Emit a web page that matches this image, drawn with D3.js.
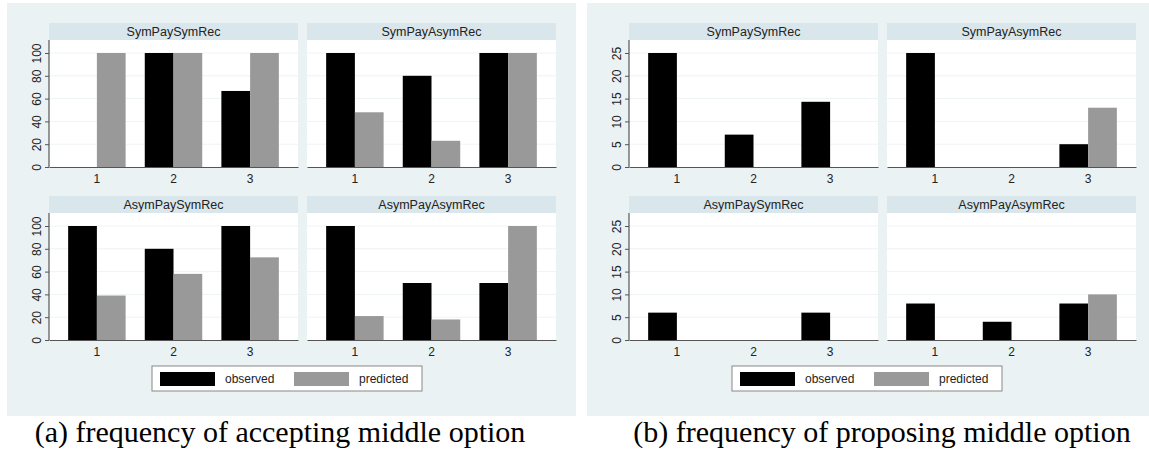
<!DOCTYPE html>
<html><head><meta charset="utf-8">
<script src="https://cdn.jsdelivr.net/npm/d3@7"></script>
<style>body{margin:0;background:#fff}svg{display:block}</style>
</head><body>
<script>
const categories = ["1", "2", "3"];
const panelNames = ["SymPaySymRec", "SymPayAsymRec", "AsymPaySymRec", "AsymPayAsymRec"];
const seriesNames = ["observed", "predicted"];
// (a) frequency of accepting middle option
const acceptObserved  = [[0, 100, 66.7], [100, 80, 100], [100, 80, 100], [100, 50, 50]];
const acceptPredicted = [[100, 100, 100], [48, 23, 100], [39, 58, 72.5], [21, 18, 100]];
const acceptTicks = [0, 20, 40, 60, 80, 100];
// (b) frequency of proposing middle option
const proposeObserved  = [[25, 7.1, 14.3], [25, 0, 5], [6, 0, 6], [8, 4, 8]];
const proposePredicted = [[0, 0, 0], [0, 0, 13], [0, 0, 0], [0, 0, 10]];
const proposeTicks = [0, 5, 10, 15, 20, 25];
const captions = ["(a) frequency of accepting middle option", "(b) frequency of proposing middle option"];

const W = 1149, H = 452;
const svg = d3.select("body").append("svg").attr("width", W).attr("height", H);
const colors = {observed: "#000000", predicted: "#999999"};
const sans = "Arial, 'Liberation Sans', sans-serif";

function drawChart(ox, obs, pred, ticks, caption, bgW, capX) {
  const g = svg.append("g").attr("transform", `translate(${ox},0)`);
  g.append("rect").attr("x", 7).attr("y", 3).attr("width", bgW).attr("height", 413).attr("fill", "#eaf2f3");
  const panelX = [49, 307], panelW = 249;
  const rowBottom = [167, 340], plotH = 127, stripH = 17;
  const topTick = ticks[ticks.length - 1];
  const y0 = d3.scaleLinear().domain([0, topTick * plotH / 114]).range([plotH, 0]);
  panelNames.forEach((name, i) => {
    const col = i % 2, row = Math.floor(i / 2);
    const px = panelX[col], pb = rowBottom[row], pt = pb - plotH;
    const p = g.append("g").attr("transform", `translate(${px},${pt})`);
    const x = d3.scaleBand().domain(categories).range([0, panelW]).paddingInner(0.25).paddingOuter(0.25);
    const xs = d3.scaleBand().domain(seriesNames).range([0, x.bandwidth()]);
    // strip
    p.append("rect").attr("x", 0).attr("y", -stripH).attr("width", panelW).attr("height", stripH).attr("fill", "#d9e6eb");
    p.append("text").attr("x", panelW / 2).attr("y", -stripH / 2).attr("dy", "0.35em")
      .attr("text-anchor", "middle").attr("font-family", sans).attr("font-size", 12.5).attr("fill", "#222").text(name);
    // plot region
    p.append("rect").attr("x", 0).attr("y", 0).attr("width", panelW).attr("height", plotH).attr("fill", "#ffffff");
    // gridlines
    p.selectAll("line.grid").data(ticks.slice(1)).join("line").attr("class", "grid")
      .attr("x1", 0).attr("x2", panelW).attr("y1", d => y0(d)).attr("y2", d => y0(d))
      .attr("stroke", "#eef3f4").attr("stroke-width", 1);
    // bars
    const data = [];
    categories.forEach((c, k) => {
      data.push({c, s: "observed", v: obs[i][k]});
      data.push({c, s: "predicted", v: pred[i][k]});
    });
    p.selectAll("rect.bar").data(data).join("rect").attr("class", "bar")
      .attr("x", d => x(d.c) + xs(d.s)).attr("width", xs.bandwidth())
      .attr("y", d => y0(d.v)).attr("height", d => plotH - y0(d.v))
      .attr("fill", d => colors[d.s]);
    // x axis
    const xa = p.append("g").attr("transform", `translate(0,${plotH})`)
      .call(d3.axisBottom(x).tickSize(0).tickPadding(7));
    xa.select(".domain").attr("stroke", "#555").attr("stroke-width", 1.2);
    xa.selectAll("text").attr("font-family", sans).attr("font-size", 12).attr("fill", "#222");
    if (col === 0) {
      const ya = p.append("g").call(d3.axisLeft(y0).tickValues(ticks).tickSize(4).tickPadding(3));
      ya.select(".domain").attr("stroke", "#555").attr("stroke-width", 1.2).attr("d", `M0,0V${plotH}`);
      ya.selectAll(".tick line").attr("stroke", "#555");
      ya.selectAll("text").attr("font-family", sans).attr("font-size", 12).attr("fill", "#222")
        .attr("transform", "rotate(-90)").attr("text-anchor", "middle")
        .attr("x", 0).attr("dx", 0).attr("y", -8).attr("dy", "0").attr("dominant-baseline", "auto");
    }
  });
  // legend
  const lg = g.append("g");
  lg.append("rect").attr("x", 152).attr("y", 366).attr("width", 270).attr("height", 25)
    .attr("fill", "#fff").attr("stroke", "#888").attr("stroke-width", 1);
  const lx = d3.scaleOrdinal().domain(seriesNames).range([160, 294]);
  seriesNames.forEach(s => {
    lg.append("rect").attr("x", lx(s)).attr("y", 372).attr("width", 55).attr("height", 14).attr("fill", colors[s]);
    lg.append("text").attr("x", lx(s) + 65).attr("y", 379).attr("dy", "0.35em")
      .attr("font-family", sans).attr("font-size", 12).attr("fill", "#222").text(s);
  });
  g.append("text").attr("x", capX).attr("y", 442).attr("text-anchor", "middle")
    .attr("font-family", "'Liberation Serif', 'Times New Roman', serif").attr("font-size", 30)
    .attr("fill", "#000").text(caption);
}

drawChart(0, acceptObserved, acceptPredicted, acceptTicks, captions[0], 569, 280);
drawChart(580, proposeObserved, proposePredicted, proposeTicks, captions[1], 562, 302);
</script>
</body></html>
